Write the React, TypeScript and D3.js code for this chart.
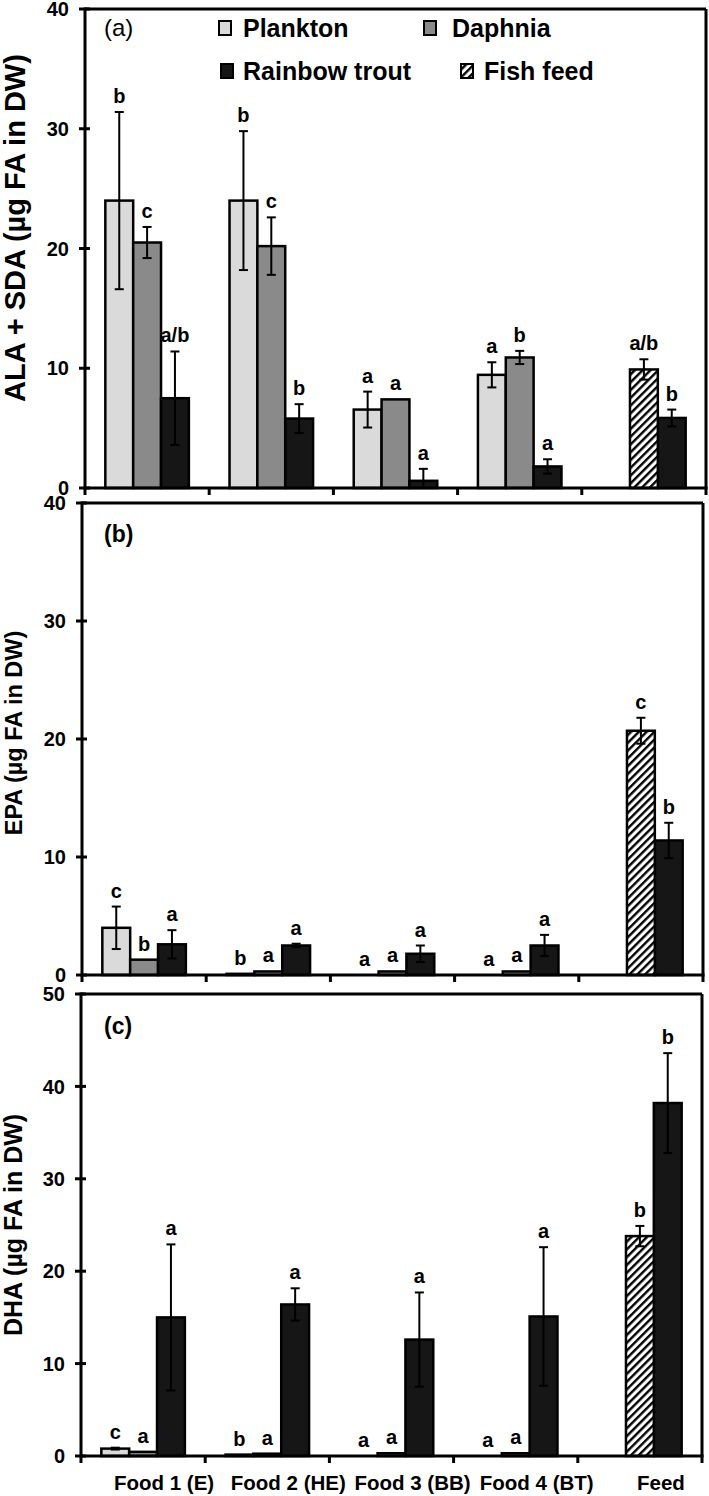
import React from 'react';
import * as d3 from 'd3';

const categories = ['Food 1 (E)', 'Food 2 (HE)', 'Food 3 (BB)', 'Food 4 (BT)', 'Feed'];
const slotNames = ['Plankton', 'Daphnia', 'Rainbow trout'];
const legendNames = ['Plankton', 'Daphnia', 'Rainbow trout', 'Fish feed'];

// (a) ALA + SDA
const alaPlankton = [24.0, 24.0, 6.55, 9.45, null];
const alaPlanktonErr = [7.4, 5.8, 1.5, 1.05, null];
const alaPlanktonSig = ['b', 'b', 'a', 'a', null];
const alaDaphnia = [20.5, 20.2, 7.4, 10.9, null];
const alaDaphniaErr = [1.3, 2.4, 0, 0.55, null];
const alaDaphniaSig = ['c', 'c', 'a', 'b', null];
const alaTrout = [7.5, 5.8, 0.6, 1.8, 5.85];
const alaTroutErr = [3.9, 1.2, 1.0, 0.6, 0.7];
const alaTroutSig = ['a/b', 'b', 'a', 'a', 'b'];
const alaFeed = [null, null, null, null, 9.9];
const alaFeedErr = [null, null, null, null, 0.85];
const alaFeedSig = [null, null, null, null, 'a/b'];
const alaTicks = [0, 10, 20, 30, 40];

// (b) EPA
const epaPlankton = [4.0, 0.1, 0, 0, null];
const epaPlanktonErr = [1.8, 0, 0, 0, null];
const epaPlanktonSig = ['c', 'b', 'a', 'a', null];
const epaDaphnia = [1.3, 0.3, 0.3, 0.3, null];
const epaDaphniaErr = [0, 0, 0, 0, null];
const epaDaphniaSig = ['b', 'a', 'a', 'a', null];
const epaTrout = [2.6, 2.5, 1.8, 2.5, 11.4];
const epaTroutErr = [1.2, 0.15, 0.7, 0.9, 1.5];
const epaTroutSig = ['a', 'a', 'a', 'a', 'b'];
const epaFeed = [null, null, null, null, 20.7];
const epaFeedErr = [null, null, null, null, 1.1];
const epaFeedSig = [null, null, null, null, 'c'];
const epaTicks = [0, 10, 20, 30, 40];

// (c) DHA
const dhaPlankton = [0.8, 0.15, 0, 0, null];
const dhaPlanktonErr = [0.1, 0, 0, 0, null];
const dhaPlanktonSig = ['c', 'b', 'a', 'a', null];
const dhaDaphnia = [0.45, 0.25, 0.3, 0.3, null];
const dhaDaphniaErr = [0, 0, 0, 0, null];
const dhaDaphniaSig = ['a', 'a', 'a', 'a', null];
const dhaTrout = [15.0, 16.4, 12.6, 15.1, 38.2];
const dhaTroutErr = [7.9, 1.75, 5.1, 7.5, 5.4];
const dhaTroutSig = ['a', 'a', 'a', 'a', 'b'];
const dhaFeed = [null, null, null, null, 23.8];
const dhaFeedErr = [null, null, null, null, 1.1];
const dhaFeedSig = [null, null, null, null, 'b'];
const dhaTicks = [0, 10, 20, 30, 40, 50];

const FONT = "'Liberation Sans', Arial, Helvetica, sans-serif";
const fills: Record<string, string> = {
  Plankton: '#dadada',
  Daphnia: '#8a8a8a',
  'Rainbow trout': '#161616',
  'Fish feed': 'url(#hatch)',
};
const slotOf: Record<string, string> = {
  Plankton: 'Plankton',
  Daphnia: 'Daphnia',
  'Rainbow trout': 'Rainbow trout',
  'Fish feed': 'Daphnia',
};

type Series = { name: string; values: (number | null)[]; errs: (number | null)[]; sig: (string | null)[] };

const panels = [
  {
    id: 'a', label: '(a)', labelBold: false, title: 'ALA + SDA (µg FA in DW)', ticks: alaTicks,
    series: [
      { name: 'Plankton', values: alaPlankton, errs: alaPlanktonErr, sig: alaPlanktonSig },
      { name: 'Daphnia', values: alaDaphnia, errs: alaDaphniaErr, sig: alaDaphniaSig },
      { name: 'Rainbow trout', values: alaTrout, errs: alaTroutErr, sig: alaTroutSig },
      { name: 'Fish feed', values: alaFeed, errs: alaFeedErr, sig: alaFeedSig },
    ] as Series[],
    layout: { top: 9, bottom: 488, left: 85, right: 706, titleX: 25, titleY: 228, titleSize: 29, labelY: 36, labelSize: 24 },
  },
  {
    id: 'b', label: '(b)', labelBold: true, title: 'EPA (µg FA in DW)', ticks: epaTicks,
    series: [
      { name: 'Plankton', values: epaPlankton, errs: epaPlanktonErr, sig: epaPlanktonSig },
      { name: 'Daphnia', values: epaDaphnia, errs: epaDaphniaErr, sig: epaDaphniaSig },
      { name: 'Rainbow trout', values: epaTrout, errs: epaTroutErr, sig: epaTroutSig },
      { name: 'Fish feed', values: epaFeed, errs: epaFeedErr, sig: epaFeedSig },
    ] as Series[],
    layout: { top: 503, bottom: 975, left: 82, right: 703, titleX: 22, titleY: 733, titleSize: 23.5, labelY: 542, labelSize: 23 },
  },
  {
    id: 'c', label: '(c)', labelBold: true, title: 'DHA (µg FA in DW)', ticks: dhaTicks,
    series: [
      { name: 'Plankton', values: dhaPlankton, errs: dhaPlanktonErr, sig: dhaPlanktonSig },
      { name: 'Daphnia', values: dhaDaphnia, errs: dhaDaphniaErr, sig: dhaDaphniaSig },
      { name: 'Rainbow trout', values: dhaTrout, errs: dhaTroutErr, sig: dhaTroutSig },
      { name: 'Fish feed', values: dhaFeed, errs: dhaFeedErr, sig: dhaFeedSig },
    ] as Series[],
    layout: { top: 994, bottom: 1456, left: 81, right: 702, titleX: 22, titleY: 1225, titleSize: 25, labelY: 1034, labelSize: 23 },
  },
];

function Panel({ p, showX }: { p: typeof panels[number]; showX: boolean }) {
  const L = p.layout;
  const yMax = p.ticks[p.ticks.length - 1];
  const y = d3.scaleLinear().domain([0, yMax]).range([L.bottom, L.top]);
  const x0 = d3.scaleBand().domain(categories).range([L.left, L.right]).padding(0);
  const x1 = d3.scaleBand().domain(slotNames).range([0, x0.bandwidth()]).paddingInner(0).paddingOuter(0.73);
  const bw = x1.bandwidth();
  const boundaries = categories.map((c) => x0(c) as number).concat([L.right]);

  const bars: React.ReactNode[] = [];
  const errs: React.ReactNode[] = [];
  const sigs: React.ReactNode[] = [];
  p.series.forEach((s) => {
    s.values.forEach((v, i) => {
      if (v === null || v === undefined) return;
      const bx = (x0(categories[i]) as number) + (x1(slotOf[s.name]) as number);
      const cx = bx + bw / 2;
      const e = s.errs[i] || 0;
      if (v > 0) {
        bars.push(
          <rect key={`b-${s.name}-${i}`} x={bx} y={y(v)} width={bw} height={L.bottom - y(v)}
            fill={fills[s.name]} stroke="#000" strokeWidth={2.5} />
        );
      }
      if (e > 0) {
        const t = y(v + e);
        const b = y(Math.max(0, v - e));
        errs.push(
          <g key={`e-${s.name}-${i}`} stroke="#000" strokeWidth={2}>
            <line x1={cx} x2={cx} y1={t} y2={b} />
            <line x1={cx - 4.5} x2={cx + 4.5} y1={t} y2={t} />
            <line x1={cx - 4.5} x2={cx + 4.5} y1={b} y2={b} />
          </g>
        );
      }
      const sg = s.sig[i];
      if (sg) {
        sigs.push(
          <text key={`s-${s.name}-${i}`} x={cx} y={y(v + e) - 9} textAnchor="middle"
            fontFamily={FONT} fontWeight="bold" fontSize={20} fill="#000">{sg}</text>
        );
      }
    });
  });

  return (
    <g>
      {bars}
      {errs}
      {sigs}
      <line x1={L.left} x2={L.right} y1={L.top} y2={L.top} stroke="#000" strokeWidth={3} />
      <line x1={L.right} x2={L.right} y1={L.top} y2={L.bottom} stroke="#000" strokeWidth={3} />
      <line x1={L.left} x2={L.left} y1={L.top - 1.5} y2={L.bottom + 1.5} stroke="#000" strokeWidth={3} />
      <line x1={L.left} x2={L.right + 1.5} y1={L.bottom} y2={L.bottom} stroke="#000" strokeWidth={3} />
      {p.ticks.map((t) => (
        <g key={`yt-${t}`}>
          <line x1={L.left - 6} x2={L.left + 5} y1={y(t)} y2={y(t)} stroke="#000" strokeWidth={3} />
          <text x={L.left - 16} y={y(t)} dy="0.36em" textAnchor="end" fontFamily={FONT}
            fontWeight="bold" fontSize={20} fill="#000">{t}</text>
        </g>
      ))}
      {boundaries.map((bx, i) => (
        <line key={`xt-${i}`} x1={bx} x2={bx} y1={L.bottom} y2={L.bottom + 7} stroke="#000" strokeWidth={3} />
      ))}
      {showX && categories.map((c) => (
        <text key={`xl-${c}`} x={(x0(c) as number) + x0.bandwidth() / 2 + 21} y={1490} textAnchor="middle"
          fontFamily={FONT} fontWeight="bold" fontSize={20.5} fill="#000">{c}</text>
      ))}
      <text transform={`translate(${L.titleX},${L.titleY}) rotate(-90)`} textAnchor="middle"
        fontFamily={FONT} fontWeight="bold" fontSize={L.titleSize} fill="#000">{p.title}</text>
      <text x={104} y={L.labelY} fontFamily={FONT} fontWeight={p.labelBold ? 'bold' : 'normal'}
        fontSize={L.labelSize} fill="#000">{p.label}</text>
    </g>
  );
}

function Legend() {
  const items = [
    { name: legendNames[0], sx: 219, tx: 243, cy: 28 },
    { name: legendNames[1], sx: 424, tx: 452, cy: 28 },
    { name: legendNames[2], sx: 221, tx: 243, cy: 71 },
    { name: legendNames[3], sx: 461, tx: 484, cy: 71 },
  ];
  return (
    <g>
      {items.map((it) => (
        <g key={it.name}>
          <rect x={it.sx} y={it.cy - 7} width={12} height={14} fill={fills[it.name]} stroke="#000" strokeWidth={2} />
          <text x={it.tx} y={it.cy} dy="0.36em" fontFamily={FONT} fontWeight="bold" fontSize={25} fill="#000">{it.name}</text>
        </g>
      ))}
    </g>
  );
}

export default function App() {
  return (
    <svg width={709} height={1496} viewBox="0 0 709 1496"
      style={{ position: 'absolute', left: 0, top: 0, background: '#fff' }}>
      <defs>
        <pattern id="hatch" patternUnits="userSpaceOnUse" width={5.5} height={5.5} patternTransform="rotate(45)">
          <rect width={5.5} height={5.5} fill="#fff" />
          <line x1={1.2} x2={1.2} y1={0} y2={5.5} stroke="#000" strokeWidth={2.4} />
        </pattern>
      </defs>
      <rect width={709} height={1496} fill="#fff" />
      {panels.map((p, i) => (
        <Panel key={p.id} p={p} showX={i === panels.length - 1} />
      ))}
      <Legend />
    </svg>
  );
}
